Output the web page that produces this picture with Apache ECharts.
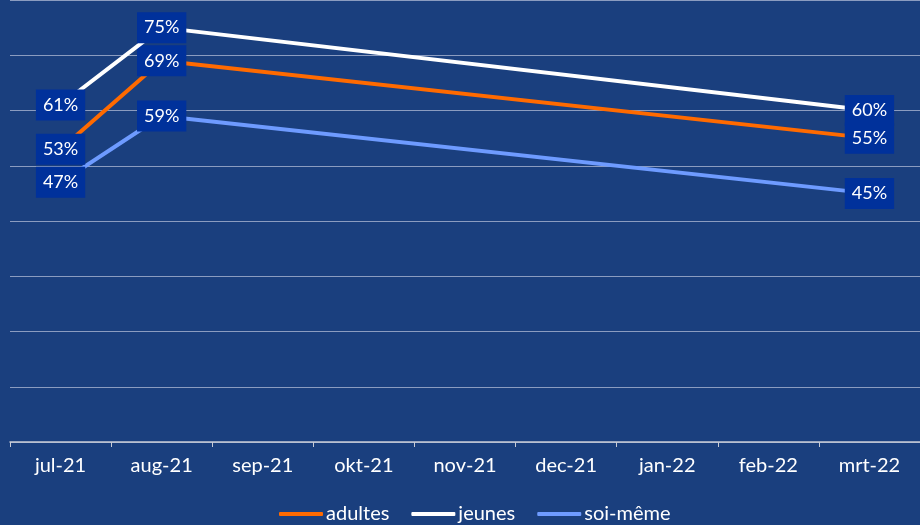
<!DOCTYPE html>
<html>
<head>
<meta charset="utf-8">
<script src="https://cdn.jsdelivr.net/npm/echarts@6/dist/echarts.min.js"></script>
<style>
  html, body { margin: 0; padding: 0; background: #1a3f7e; }
  #chart { width: 920px; height: 525px; }
</style>
</head>
<body>
<div id="chart"></div>
<script>
// mois (seules trois mesures)
const months = ['jul-21', 'aug-21', 'sep-21', 'okt-21', 'nov-21', 'dec-21', 'jan-22', 'feb-22', 'mrt-22']
const adultes = [53, 69, null, null, null, null, null, null, 55]
const jeunes = [61, 75, null, null, null, null, null, null, 60]
const soiMeme = [47, 59, null, null, null, null, null, null, 45]

const labelStyle = {
  show: true,
  position: 'inside',
  formatter: p => p.value + '%',
  color: '#ffffff',
  fontFamily: 'Lato',
  fontSize: 18,
  backgroundColor: '#00319b',
  padding: [7, 7, 6, 7]
}

function makeLine(name, data, color, z) {
  return {
    name,
    type: 'line',
    data,
    connectNulls: true,
    symbol: 'circle',
    symbolSize: 0,
    showSymbol: true,
    itemStyle: { color },
    lineStyle: { color, width: 4 },
    label: labelStyle,
    z
  }
}

const chart = echarts.init(document.getElementById('chart'))
chart.setOption({
  backgroundColor: '#1a3f7e',
  animation: false,
  grid: { left: 10, right: -9, top: -1, bottom: 83 },
  legend: {
    bottom: -4,
    left: 274,
    icon: 'roundRect',
    itemWidth: 44,
    itemHeight: 4,
    itemGap: 22,
    textStyle: { color: '#ffffff', fontFamily: 'Lato', fontSize: 20, padding: [0, 0, 0, -2] },
    data: ['adultes', 'jeunes', 'soi-même']
  },
  xAxis: {
    type: 'category',
    data: months,
    boundaryGap: true,
    axisLine: { lineStyle: { color: '#c8ccd6', width: 1.5 } },
    axisTick: { show: true, length: 5, lineStyle: { color: '#c8ccd6' } },
    axisLabel: { color: '#ffffff', fontFamily: 'Lato', fontSize: 20, margin: 14 }
  },
  yAxis: {
    type: 'value',
    min: 0,
    max: 80,
    interval: 10,
    axisLabel: { show: false },
    axisLine: { show: false },
    axisTick: { show: false },
    splitLine: { lineStyle: { color: '#8b9cc0', width: 1 } }
  },
  series: [
    makeLine('adultes', adultes, '#ff6a00', 2),
    makeLine('jeunes', jeunes, '#ffffff', 3),
    makeLine('soi-même', soiMeme, '#6e9bff', 1)
  ]
})
</script>
</body>
</html>
